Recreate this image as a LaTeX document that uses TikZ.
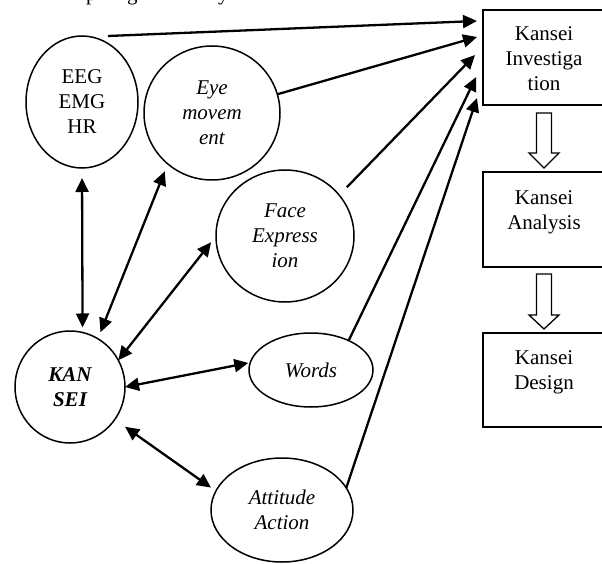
\documentclass[tikz,border=0pt]{standalone}
\usepackage{fontspec}
\setmainfont{Liberation Serif}
\usetikzlibrary{arrows.meta,shapes.geometric,calc}
\tikzset{
  bubble/.style={ellipse, draw, line width=1.5pt, inner sep=0pt, outer sep=0pt, align=center, font=\fontsize{21}{25}\selectfont},
  ital/.style={font=\fontsize{21}{25}\selectfont\itshape},
  stage/.style={rectangle, draw, line width=1.5pt, minimum width=122pt, inner sep=0pt, outer sep=0pt},
  stagetext/.style={anchor=north, align=center, inner sep=0pt, font=\fontsize{21}{25}\selectfont},
  link/.style={line width=2.3pt, -{Triangle[length=14pt,width=13pt]}},
  both/.style={line width=2.3pt, {Triangle[length=14pt,width=13pt]}-{Triangle[length=14pt,width=13pt]}},
  hollow/.style={draw, line width=1.3pt, fill=white, line join=miter},
}
\begin{document}
\begin{tikzpicture}[x=1pt,y=-1pt]
\useasboundingbox (0,0) rectangle (602,564);
% clipped line of text at the top
\node[anchor=base west, inner sep=0pt, font=\fontsize{21}{25}\selectfont] (cut) at (86,1) {p\hspace{30.5pt}g\hspace{80.5pt}y};
% bubbles
\node[bubble, minimum width=112pt, minimum height=132pt] (eeg) at (82,102) {EEG\\EMG\\HR};
\node[bubble, ital, minimum width=136pt, minimum height=134pt] (eye) at (212,113) {Eye\\movem\\ent};
\node[bubble, ital, minimum width=138pt, minimum height=132pt] (face) at (285,236) {Face\\Express\\ion};
\node[bubble, font=\fontsize{21}{25}\selectfont\bfseries\itshape, minimum width=110pt, minimum height=112pt] (kansei) at (70,387) {KAN\\SEI};
\node[bubble, ital, minimum width=124pt, minimum height=74pt] (words) at (311,370) {Words};
\node[bubble, ital, minimum width=142pt, minimum height=104pt] (att) at (282,510) {Attitude\\Action};
% stages
\node[stage, minimum height=95pt] (inv) at (544,57.5) {};
\node[stage, minimum height=95pt] (ana) at (544,219.5) {};
\node[stage, minimum height=94pt] (des) at (544,380) {};
\node[stagetext] (invt) at ($(inv.north)+(0,16)$) {Kansei\\Investiga\\tion};
\node[stagetext] (anat) at ($(ana.north)+(0,18)$) {Kansei\\Analysis};
\node[stagetext] (dest) at ($(des.north)+(0,17)$) {Kansei\\Design};
% block arrows
\draw[hollow] ($(inv.south)+(-7.5,8)$) -- ++(15,0) -- ++(0,40) -- ++(7.5,0) -- ($(ana.north)+(0,-4)$) -- ++(-15,-15) -- ++(7.5,0) -- cycle;
\draw[hollow] ($(ana.south)+(-7.5,7)$) -- ++(15,0) -- ++(0,41) -- ++(7.5,0) -- ($(des.north)+(0,-4)$) -- ++(-15,-14) -- ++(7.5,0) -- cycle;
% two-way links with KANSEI
\draw[both, shorten <=10pt, shorten >=5pt] (eeg.south) -- (kansei.77.6);
\draw[both, shorten <=8pt, shorten >=7pt] (eye.229) -- (kansei.60.5);
\draw[both, shorten <=8pt] (face.west) -- (kansei.29.4);
\draw[both, shorten >=2pt] (kansei.east) -- (words.173);
\draw[both, shorten <=12.6pt, shorten >=6pt] (kansei.-36.2) -- (att.164.3);
% links to Kansei Investigation
\draw[link, shorten >=6pt] ($(eeg.north)+(26,0)$) -- ($(inv.north west)!0.113!(inv.south west)$);
\draw[link, shorten >=6.2pt] (eye.16) -- ($(inv.north west)!0.266!(inv.south west)$);
\draw[link, shorten <=11pt, shorten >=11.5pt] (face.37.1) -- ($(inv.north west)!0.387!(inv.south west)$);
\draw[link, shorten >=15.9pt] (words.38.9) -- ($(inv.north west)!0.555!(inv.south west)$);
\draw[link, shorten >=18.9pt] (att.19.5) -- ($(inv.north west)!0.738!(inv.south west)$);
\end{tikzpicture}
\end{document}
